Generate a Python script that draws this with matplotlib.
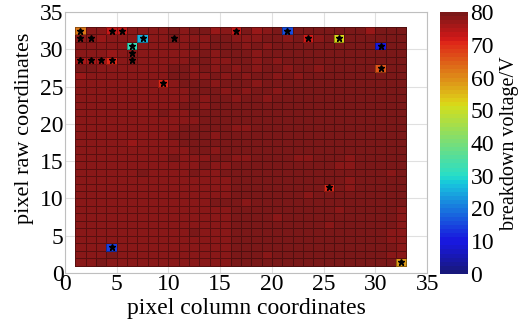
import numpy as np
import matplotlib

matplotlib.use("Agg")
import matplotlib.pyplot as plt
from matplotlib.colors import ListedColormap

plt.rcParams["font.family"] = ["Liberation Serif", "DejaVu Serif"]

# background breakdown voltage, one string per pixel row (top row 32 first);
# digit d -> 75.5 + 0.6 * d volts
bg_rows = [
    "54555555" "56566355" "63565676" "77772899",
    "55354555" "56555665" "55665665" "66766889",
    "55545555" "55565666" "56566666" "67676789",
    "55535555" "55556566" "65666667" "76666789",
    "44434555" "55566556" "65656666" "76677889",
    "66555555" "56656565" "65665665" "67677689",
    "35555555" "56655656" "56656566" "67676789",
    "55555455" "55666566" "65666766" "67767789",
    "55555555" "55566656" "56656666" "67766789",
    "54444555" "55565665" "66566766" "66766789",
    "45555555" "55665666" "66666667" "66766778",
    "55555555" "65566766" "66667666" "77766777",
    "55555555" "55556666" "66666766" "67767777",
    "55555555" "55666665" "56666666" "67676787",
    "55555555" "56766566" "66666667" "66766777",
    "55555355" "55666666" "66666666" "66667776",
    "55555555" "55566566" "66666666" "66766767",
    "55555555" "56555665" "56666556" "66466677",
    "55555555" "55556556" "66666766" "65466667",
    "55555565" "55565566" "66666666" "76667656",
    "55555555" "55555556" "66666766" "66466766",
    "55555555" "55555556" "66667766" "66566666",
    "55555555" "55555556" "66667656" "66666666",
    "55555555" "55555666" "56666666" "66666666",
    "55555555" "55555556" "66666666" "65666665",
    "55555555" "55555556" "66656666" "66666665",
    "55555555" "55555556" "66666666" "56666665",
    "55555555" "55565556" "66666666" "66666655",
    "55555555" "55555556" "66666666" "66666655",
    "55555555" "55555556" "66666666" "66666665",
    "55565555" "55555556" "66566666" "66666655",
    "55655555" "55555556" "66666666" "66666665",
]

# cells with a clearly lower breakdown voltage
defect_col = [1, 4, 5, 16, 21, 7, 23, 26, 6, 30, 1, 2, 3, 4, 30, 9, 25, 4, 32]
defect_row = [32, 32, 32, 32, 32, 31, 31, 31, 30, 30, 28, 28, 28, 28, 27, 25, 11, 3, 1]
defect_v = [62, 73, 73, 73, 15, 25, 72, 52, 32, 10, 75, 75, 75, 71, 66, 71, 71, 14, 58]

# pixels marked with a star
star_col = [1, 4, 5, 16, 21, 1, 2, 7, 10, 23, 26, 6, 30, 6, 1, 2, 3, 4, 6, 30, 9, 25, 4, 32]
star_row = [32, 32, 32, 32, 32, 31, 31, 31, 31, 31, 31, 30, 30, 29, 28, 28, 28, 28, 28, 27, 25, 11, 3, 1]

n = 32
volt = np.array([[75.5 + 0.6 * int(ch) for ch in row] for row in bg_rows[::-1]])
for c, r, v in zip(defect_col, defect_row, defect_v):
    volt[r - 1, c - 1] = v

# jet with 64 levels, slightly muted like the original export
base = matplotlib.colormaps["jet"].resampled(64)(np.linspace(0, 1, 64))
base[:, :3] = 0.78 * base[:, :3] + 0.22 * 0.42
cmap = ListedColormap(base)

fig = plt.figure(figsize=(5.28, 3.25), dpi=100)
ax = fig.add_axes([0.123, 0.160, 0.686, 0.803])
cax = fig.add_axes([0.833, 0.157, 0.053, 0.806])

edges = np.arange(1, n + 2)
mesh = ax.pcolormesh(edges, edges, volt, cmap=cmap, vmin=0, vmax=80,
                     edgecolors=(0, 0, 0, 0.35), linewidth=0.4, zorder=2)
ax.plot(np.array(star_col) + 0.5, np.array(star_row) + 0.5, "*", color="k",
        ms=5, zorder=3)

ax.set_xlim(0, 35)
ax.set_ylim(0, 35)
ax.set_xticks(range(0, 36, 5))
ax.set_yticks(range(0, 36, 5))
ax.grid(color="0.88", lw=0.8, zorder=0)
ax.set_axisbelow(True)
for s in ax.spines.values():
    s.set_color("0.75")
ax.tick_params(length=0, labelsize=17, pad=1)
ax.set_xlabel("pixel column coordinates", fontsize=17, labelpad=2)
ax.set_ylabel("pixel raw coordinates", fontsize=16)
ax.yaxis.set_label_coords(-0.085, 0.556)

cb = fig.colorbar(mesh, cax=cax, ticks=range(0, 81, 10))
cb.outline.set_visible(False)
cb.ax.tick_params(length=0, labelsize=17, pad=2)
cb.set_label("breakdown voltage/V", fontsize=14.5)
cb.ax.yaxis.set_label_coords(2.15, 0.5)

fig.savefig("out.png", dpi=100)
